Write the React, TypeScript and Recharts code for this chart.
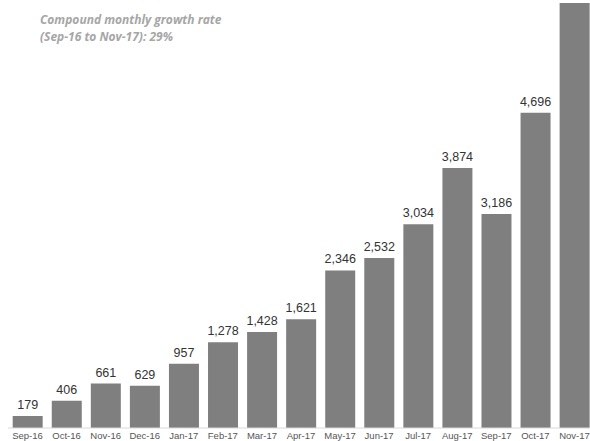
import React from "react";
import { BarChart, Bar, XAxis, YAxis, LabelList } from "recharts";

const months = ["Sep-16","Oct-16","Nov-16","Dec-16","Jan-17","Feb-17","Mar-17","Apr-17","May-17","Jun-17","Jul-17","Aug-17","Sep-17","Oct-17","Nov-17"];
const users = [179,406,661,629,957,1278,1428,1621,2346,2532,3034,3874,3186,4696,6330];
const titleLines = ["Compound monthly growth rate", "(Sep-16 to Nov-17): 29%"];

const data = months.map((m, i) => ({ month: m, value: users[i] }));

const renderLabel = (props: any) => {
  const { x, y, width, value, index } = props;
  if (index === months.length - 1) return null;
  return (
    <text x={x + width / 2} y={y - 7} textAnchor="middle" fill="#333333" fontSize={12.5} fontFamily="Liberation Sans, Arial, sans-serif">
      {Number(value).toLocaleString("en-US")}
    </text>
  );
};

export default function App() {
  return (
    <div style={{ position: "fixed", left: 0, top: 0, width: 590, height: 441, overflow: "hidden", background: "#fff" }}>
      <BarChart width={600} height={441} data={data} margin={{ top: 3, right: 6, left: 8, bottom: 0 }} barCategoryGap="12%">
        <XAxis dataKey="month" height={13} interval={0} tickLine={false} tickSize={0} axisLine={{ stroke: "#d9d9d9" }} tickMargin={4}
          tick={{ fontSize: 9.5, fill: "#555555", fontFamily: "Liberation Sans, Arial, sans-serif" }} />
        <YAxis hide domain={[0, 6330]} />
        <Bar dataKey="value" fill="#7f7f7f" isAnimationActive={false}>
          <LabelList dataKey="value" content={renderLabel} />
        </Bar>
      </BarChart>
      <div style={{ position: "absolute", left: 40, top: 11, fontFamily: "Open Sans, sans-serif", fontStyle: "italic", fontWeight: 700, fontSize: 12, lineHeight: "17px", color: "#a6a6a6" }}>
        {titleLines.map((t) => <div key={t}>{t}</div>)}
      </div>
    </div>
  );
}
